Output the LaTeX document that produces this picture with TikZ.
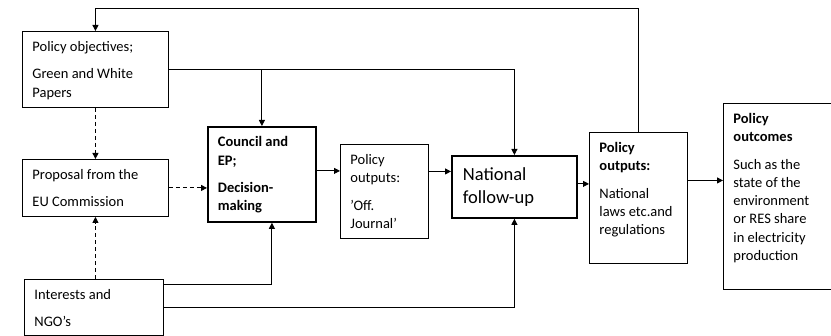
\documentclass[tikz,border=0pt]{standalone}
\usepackage{fontspec}
\setmainfont{Carlito}
\usetikzlibrary{arrows.meta}

% text block of a panel: width, height, contents (top aligned, 10pt left inset)
\newcommand{\panel}[3]{\parbox[b][#2][t]{#1}{\raggedright\leftskip=10pt\relax
  \fontsize{14.5pt}{18.3pt}\selectfont\setlength{\parskip}{9pt}\rule{0pt}{20pt}#3}}
\newcommand{\bigpanel}[3]{\parbox[b][#2][t]{#1}{\raggedright\leftskip=11pt\relax
  \fontsize{18.5pt}{23pt}\selectfont\rule{0pt}{25pt}#3}}

\tikzset{
  box/.style={draw, line width=0.9pt, inner sep=0pt, anchor=north west},
  heavy/.style={line width=1.8pt},
  arr/.style={line width=0.9pt, -{Triangle[length=6pt,width=6pt]}},
  dsh/.style={dash pattern=on 4pt off 3pt}
}

\begin{document}
\begin{tikzpicture}[x=1pt, y=-1pt]
  \useasboundingbox (0,0) rectangle (831,336);
  \clip (0,0) rectangle (831,336);

  % panels
  \node[box] (obj) at (22,31) {\panel{146pt}{76pt}{Policy objectives;\par Green and White\\Papers}};
  \node[box] (prop) at (22,159) {\panel{146pt}{57pt}{Proposal from the\par EU Commission}};
  \node[box] (ngo) at (24,279) {\panel{139pt}{56pt}{Interests and\par NGO's}};
  \node[box, heavy] (council) at (207,126) {\panel{108pt}{95pt}{\textbf{Council and\\EP;}\par\textbf{Decision-\\making}}};
  \node[box] (offj) at (340,144) {\panel{88pt}{94pt}{Policy\\outputs:\par 'Off.\\Journal'}};
  \node[box, heavy] (natl) at (451,155) {\bigpanel{125pt}{62pt}{National\\follow-up}};
  \node[box] (outp) at (589,132) {\panel{98pt}{131pt}{\textbf{Policy\\outputs:}\par National\\laws etc.and\\regulations}};
  \node[box] (outc) at (723,103) {\panel{150pt}{186pt}{\textbf{Policy\\outcomes}\par Such as the\\state of the\\environment\\or RES share\\in electricity\\production}};

  % feedback loop along the top
  \coordinate (fbtop) at (0,8);
  \draw[arr] (outp.north) -- (outp.north |- fbtop) -| (obj.north);

  % objectives feed the decision and national follow-up
  \draw[arr] (obj.east) -| (natl.north);
  \draw[arr] (obj.east -| council.north) -- (council.north);

  % dashed influence links
  \draw[arr, dsh] (obj.south) -- (prop.north);
  \draw[arr, dsh] (prop.east) -- (prop.east -| council.west);
  \draw[arr, dsh] (prop.south |- ngo.north) -- (prop.south);

  % interests and NGOs
  \coordinate (ngoA) at ([yshift=-5pt]ngo.north east);
  \coordinate (cIn) at ([xshift=10pt]council.south);
  \draw[arr] (ngoA) -| (cIn);
  \draw[arr] (ngo.east) -| (natl.south);

  % main chain
  \coordinate (c2o) at ([yshift=3.5pt]council.east);
  \draw[arr] (c2o) -- (c2o -| offj.west);
  \coordinate (o2n) at ([yshift=20pt]offj.east);
  \draw[arr] (o2n) -- (o2n -| natl.west);
  \coordinate (n2p) at ([yshift=3pt]natl.east);
  \draw[arr] (n2p) -- (n2p -| outp.west);
  \coordinate (p2o) at ([yshift=17.5pt]outp.east);
  \draw[arr] (p2o) -- (p2o -| outc.west);
\end{tikzpicture}
\end{document}
